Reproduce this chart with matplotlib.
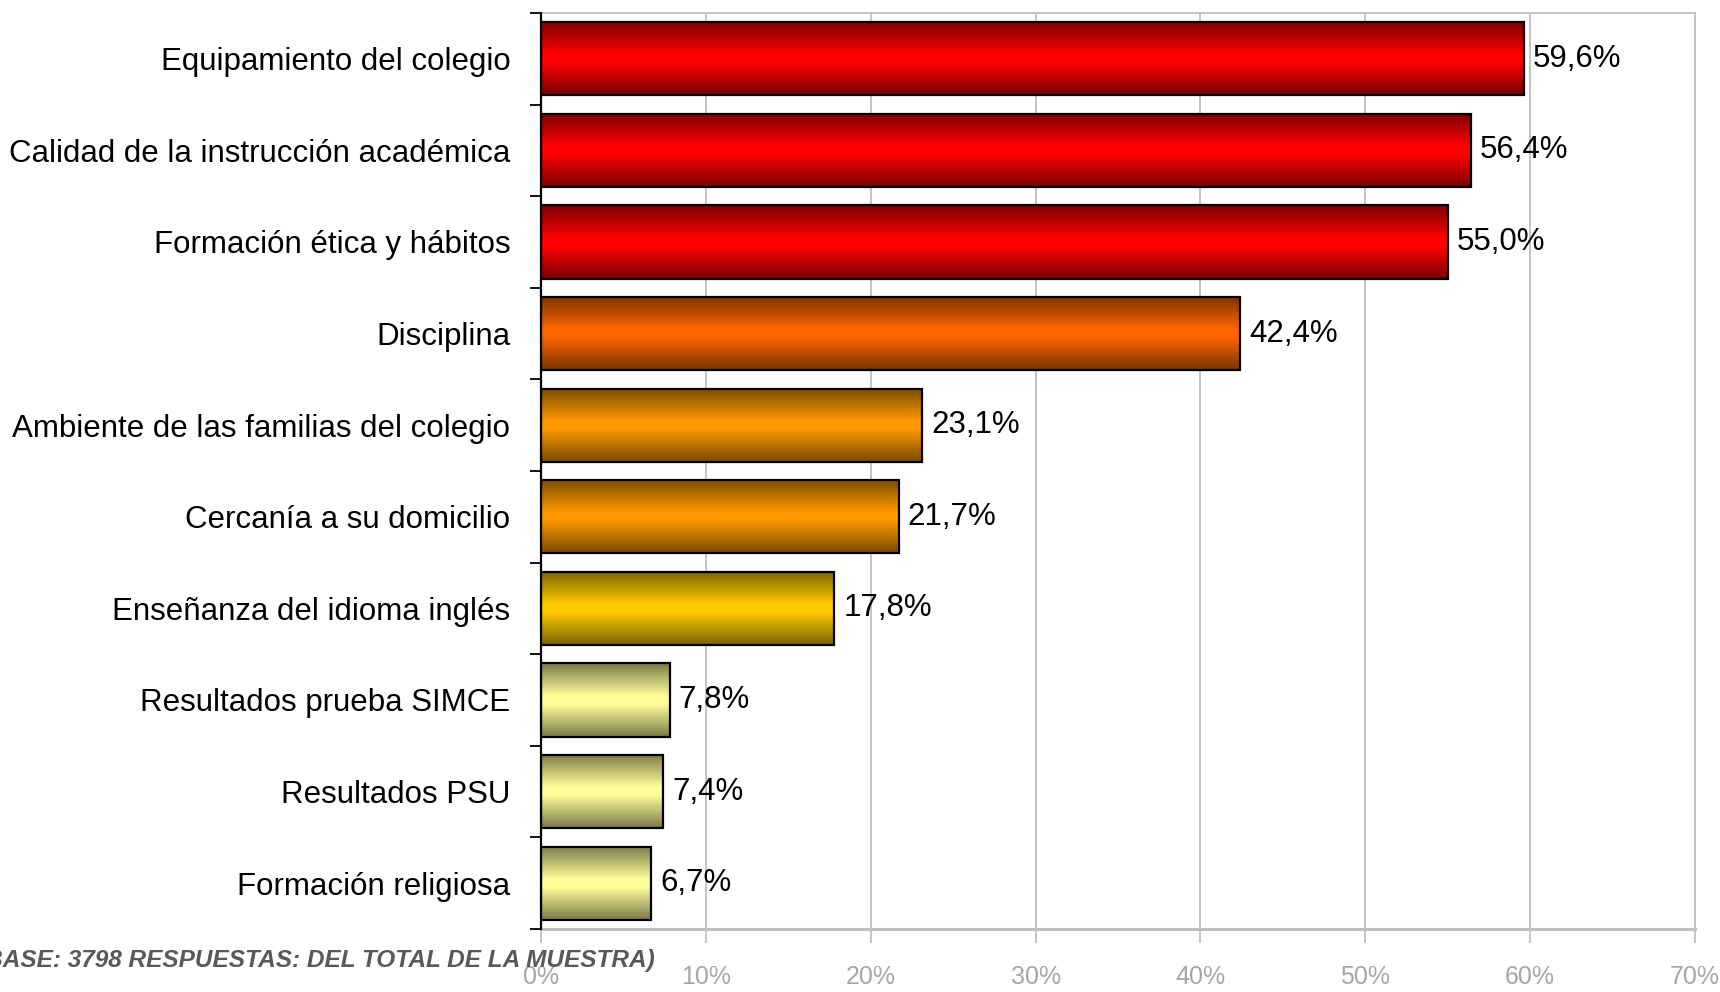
import numpy as np
import matplotlib.pyplot as plt
from matplotlib.colors import LinearSegmentedColormap
from matplotlib.patches import Rectangle

categorias = ["Equipamiento del colegio",
              "Calidad de la instrucción académica",
              "Formación ética y hábitos",
              "Disciplina",
              "Ambiente de las familias del colegio",
              "Cercanía a su domicilio",
              "Enseñanza del idioma inglés",
              "Resultados prueba SIMCE",
              "Resultados PSU",
              "Formación religiosa"]
valores = [59.6, 56.4, 55.0, 42.4, 23.1, 21.7, 17.8, 7.8, 7.4, 6.7]
etiquetas = ["59,6%", "56,4%", "55,0%", "42,4%", "23,1%",
             "21,7%", "17,8%", "7,8%", "7,4%", "6,7%"]
# (color central, color de borde) del degradado
colores = [("#FF0000", "#7A0000"), ("#FF0000", "#7A0000"), ("#FF0000", "#7A0000"),
           ("#FF6600", "#7A3300"),
           ("#FF9900", "#7A4A00"), ("#FF9900", "#7A4A00"),
           ("#FFCC00", "#7A6200"),
           ("#FFFF99", "#7A7A4A"), ("#FFFF99", "#7A7A4A"), ("#FFFF99", "#7A7A4A")]
xticks = [0, 10, 20, 30, 40, 50, 60, 70]
xtick_labels = ["0%", "10%", "20%", "30%", "40%", "50%", "60%", "70%"]
nota = "(BASE: 3798 RESPUESTAS: DEL TOTAL DE LA MUESTRA)"

fuente = ["Liberation Sans", "DejaVu Sans"]

fig = plt.figure(figsize=(17.2, 9.92), dpi=100)
ax = fig.add_axes([541 / 1720, 1 - 929 / 992, (1695 - 541) / 1720, (929 - 13) / 992])

n = len(categorias)
y_pos = np.arange(n)
h = 0.8
grad = np.linspace(0, 1, 256).reshape(-1, 1)

for i, (v, (c_mid, c_edge)) in enumerate(zip(valores, colores)):
    cmap = LinearSegmentedColormap.from_list(
        "g", [(0, c_edge), (0.45, c_mid), (0.55, c_mid), (1, c_edge)])
    ax.imshow(grad, cmap=cmap, aspect="auto",
              extent=(0, v, i + h / 2, i - h / 2), zorder=2, interpolation="bilinear")
    ax.add_patch(Rectangle((0, i - h / 2), v, h, fill=False,
                           edgecolor="black", linewidth=1.6, zorder=3))
    ax.text(v + 0.55, i, etiquetas[i], va="center", ha="left",
            fontsize=22.5, family=fuente, color="black")

ax.set_xlim(0, 70)
ax.set_ylim(n - 0.5, -0.5)

ax.set_yticks(y_pos)
ax.set_yticklabels(categorias, fontsize=22.5, family=fuente)
ax.tick_params(axis="y", which="major", length=0, pad=22)
ax.set_yticks(np.arange(-0.5, n, 1), minor=True)
ax.tick_params(axis="y", which="minor", length=8, width=1.3, color="black")

ax.set_xticks(xticks)
ax.set_xticklabels(xtick_labels, fontsize=18, family=fuente, color="#A6A6A6")
ax.tick_params(axis="x", length=10, width=1.3, color="#BFBFBF", pad=16)

ax.grid(axis="x", color="#BFBFBF", linewidth=1.3, zorder=0)
ax.set_axisbelow(True)

ax.spines["left"].set_color("black")
ax.spines["left"].set_linewidth(1.6)
ax.spines["left"].set_zorder(4)
for s in ["top", "right", "bottom"]:
    ax.spines[s].set_color("#BFBFBF")
    ax.spines[s].set_linewidth(1.3)
ax.spines["bottom"].set_linewidth(2.2)

fig.text(655 / 1720, 1 - 960 / 992, nota, ha="right", va="center",
         fontsize=17.6, family=fuente, fontweight="bold", fontstyle="italic",
         color="#595959")

fig.savefig("out.png", dpi=100)
